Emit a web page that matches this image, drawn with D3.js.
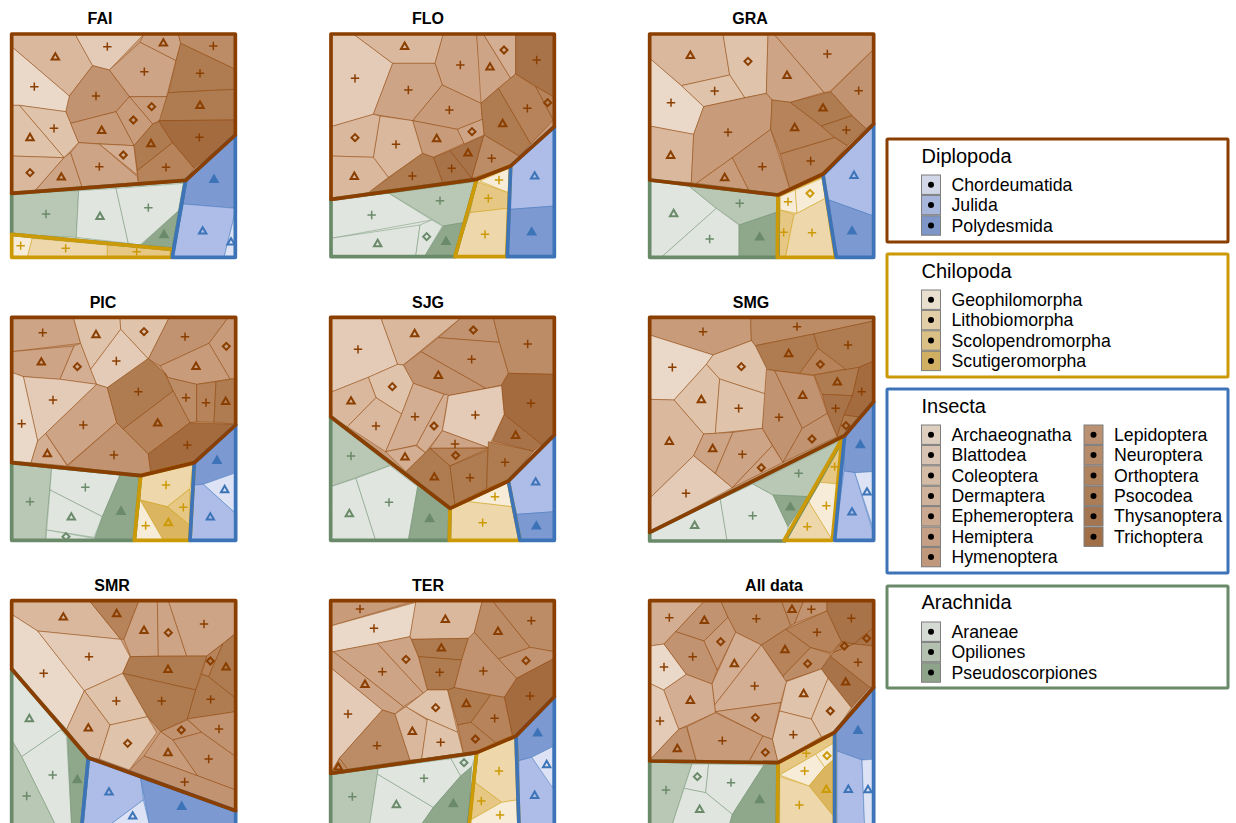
<!DOCTYPE html>
<html><head><meta charset="utf-8">
<script src="https://cdn.jsdelivr.net/npm/d3@7/dist/d3.min.js"></script>
<style>html,body{margin:0;padding:0;background:#fff}svg{display:block}text{font-family:"Liberation Sans",Arial,sans-serif;fill:#000}</style>
</head><body><svg id="c" width="1236" height="823"></svg>
<script>
const orders_I=["Archaeognatha","Blattodea","Coleoptera","Dermaptera","Ephemeroptera","Hemiptera","Hymenoptera","Lepidoptera","Neuroptera","Orthoptera","Psocodea","Thysanoptera","Trichoptera"];
const orders_D=["Chordeumatida","Julida","Polydesmida"];
const orders_C=["Geophilomorpha","Lithobiomorpha","Scolopendromorpha","Scutigeromorpha"];
const orders_A=["Araneae","Opiliones","Pseudoscorpiones"];
const colors_I=["#ead8c8","#e4cbb7","#dfc3aa","#dab89e","#d4ae92","#cea486","#c89c7b","#c29371","#bc8c66","#b6835a","#af7c51","#a9734a","#a46b3f"];
const colors_D=["#dde3f5","#aebde8","#7d99d2"];
const colors_C=["#f6ecd8","#eed8ab","#e6c884","#dbb55f"];
const colors_A=["#e0e6df","#b9c7b5","#8fa78b"];
const edge={I:"#8a3f00",C:"#cc9a06",D:"#3d74b8",A:"#6a8a6a"};
const drawOrder=["A","C","D","I"];

// each cell: [group, order index, symbol, marker x, marker y, polygon x,y,...]  (units: 1/3 px inside a panel's crop)
const FAI=[
["I",3,"t",166,170,[35,102,225,102,278,197,208,288,35,140]],
["I",1,"p",322,140,[225,102,432,102,328,210,278,197]],
["I",5,"t",490,128,[432,102,535,102,542,130,528,182,420,127]],
["I",8,"p",640,138,[535,102,706,102,706,208,542,130]],
["I",5,"p",433,215,[420,127,528,182,500,290,388,290,328,210]],
["I",10,"p",600,220,[542,130,706,208,706,268,505,278,528,182]],
["I",10,"t",600,315,[505,278,706,268,706,360,476,362,500,290]],
["I",6,"d",455,320,[388,290,500,290,478,362,458,372]],
["I",6,"d",400,360,[388,290,458,372,402,437,348,335]],
["I",7,"p",288,288,[278,197,328,210,388,290,348,335,212,370,197,335,208,288]],
["I",0,"p",103,260,[35,140,208,288,197,335,58,316,35,316]],
["I",2,"p",162,385,[58,316,197,335,212,370,236,428,192,473]],
["I",2,"t",90,412,[35,316,58,316,192,473,35,468]],
["I",3,"d",90,518,[35,468,192,473,100,578,35,580]],
["I",5,"t",184,530,[192,473,212,458,246,560,100,578]],
["I",6,"t",305,390,[212,370,348,335,402,437,236,428]],
["I",5,"p",298,500,[236,428,298,432,412,530,415,548,246,560,212,458]],
["I",4,"d",370,465,[298,432,402,437,412,525]],
["I",10,"t",453,430,[458,372,476,365,518,428,412,512,402,437]],
["I",9,"p",498,502,[518,428,583,505,557,541,415,548,412,512]],
["I",12,"p",598,412,[476,362,706,360,706,405,583,505,518,428]],
["A",1,"p",138,642,[35,580,236,572,229,712,35,703]],
["A",0,"t",300,648,[236,572,348,565,385,730,229,712]],
["A",0,"p",445,623,[348,565,550,550,535,633,420,735,385,730]],
["A",2,"t",492,703,[535,633,520,748,420,738]],
["C",0,"p",62,737,[35,703,97,715,82,772,35,772]],
["C",1,"p",197,745,[97,715,322,735,322,772,82,772]],
["C",2,"p",410,755,[322,735,515,748,515,772,322,772]],
["D",2,"t",642,537,[557,541,706,405,706,625,550,612]],
["D",1,"t",608,692,[550,612,706,625,700,660,672,772,517,772]],
["D",0,"t",693,725,[700,660,706,660,706,772,672,772]]];
const FAI_out={I:[35,102,706,102,706,405,557,541,35,580],A:[35,580,557,541,520,748,35,703],C:[35,703,515,748,515,772,35,772],D:[557,541,706,405,706,772,517,772]};

const FLO=[
["I",1,"p",105,235,[33,102,100,102,218,190,160,343,33,380]],
["I",3,"t",254,138,[100,102,370,102,345,190,218,190]],
["I",5,"p",421,195,[370,102,470,102,487,300,483,310,367,255,345,190]],
["I",5,"t",510,200,[470,102,490,102,572,235,535,265,483,310]],
["I",4,"d",552,150,[490,102,587,102,587,222,572,235]],
["I",11,"p",650,180,[587,102,703,102,703,292,587,222]],
["I",5,"p",265,270,[218,190,345,190,367,255,278,362,160,343]],
["I",6,"p",388,330,[367,255,483,310,487,358,412,388,278,362]],
["I",9,"p",622,325,[535,265,587,222,647,260,700,360,632,432]],
["I",9,"d",683,308,[647,260,703,292,703,380,700,360]],
["I",10,"t",548,370,[483,310,535,265,632,432,597,468,492,405,487,358]],
["I",8,"p",515,475,[492,405,597,468,572,498,455,535]],
["I",5,"d",456,395,[412,388,487,358,492,405,432,432]],
["I",6,"t",350,415,[278,362,412,388,432,430,340,472,307,460]],
["I",11,"t",444,458,[390,452,490,408,455,535]],
["I",11,"p",395,505,[340,472,390,452,455,535,368,548]],
["I",10,"p",277,528,[307,460,340,472,368,548,145,578]],
["I",3,"p",228,433,[180,348,278,362,307,460,205,532,160,472]],
["I",3,"d",105,413,[33,380,160,343,180,348,160,472,33,468]],
["I",3,"t",103,528,[33,468,160,472,205,532,145,578,33,598]],
["A",0,"p",155,645,[33,598,207,580,335,660,33,715]],
["A",1,"p",360,602,[207,580,465,545,447,665,370,678]],
["A",0,"t",173,730,[33,715,300,675,287,770,33,770]],
["A",0,"d",320,710,[300,675,335,660,367,678,313,770,287,770]],
["A",2,"t",378,723,[370,678,447,665,405,770,313,770]],
["C",0,"p",537,540,[480,543,568,505,565,578]],
["C",2,"p",505,595,[470,545,565,578,562,625,450,638]],
["C",1,"p",495,703,[450,638,562,625,558,770,405,770]],
["D",1,"t",644,527,[572,498,703,380,703,618,572,628]],
["D",2,"t",635,695,[572,628,703,618,703,770,562,770]]];
const FLO_out={I:[33,102,703,102,703,380,572,498,470,538,33,598],A:[33,598,470,538,405,770,33,770],C:[470,538,572,498,560,770,405,770],D:[572,498,703,380,703,770,562,770]};

const GRA=[
["I",3,"t",157,165,[35,102,255,102,275,225,130,257,35,175]],
["I",2,"d",330,184,[255,102,390,102,385,280,320,293,275,225]],
["I",2,"p",230,273,[130,257,275,225,320,293,197,320]],
["I",0,"p",99,308,[35,175,130,257,197,320,167,403,35,378]],
["I",3,"t",98,465,[35,378,167,403,160,548,35,540]],
["I",5,"t",447,225,[390,102,408,102,558,277,457,307,402,300,385,280]],
["I",5,"p",568,162,[408,102,707,102,707,148,575,275,558,277]],
["I",7,"p",662,272,[707,148,707,372,683,385,640,345,578,275]],
["I",6,"p",270,397,[197,320,385,280,402,300,398,388,283,473,175,550,160,548,167,403]],
["I",6,"t",260,532,[283,473,332,570,175,550]],
["I",7,"p",373,500,[283,473,398,388,455,565,420,585,332,570]],
["I",9,"t",470,382,[402,300,457,307,550,378,590,413,427,462,398,388]],
["I",10,"t",555,323,[457,307,578,275,642,347,550,378]],
["I",10,"p",625,390,[550,378,642,347,683,385,628,437,590,413]],
["I",9,"p",518,483,[427,462,590,413,628,437,555,522,455,565]],
["A",0,"t",107,640,[35,540,155,560,235,625,72,770,35,770]],
["A",1,"p",305,610,[155,560,420,585,415,637,305,675,235,625]],
["A",0,"p",215,717,[235,625,303,675,303,770,72,770]],
["A",2,"t",365,710,[303,675,415,637,415,770,303,770]],
["C",0,"p",450,605,[427,590,472,570,477,640,427,630]],
["C",0,"d",516,580,[472,570,552,535,562,595,477,640]],
["C",2,"p",437,697,[427,630,468,643,443,770,420,770]],
["C",1,"p",522,698,[468,643,477,640,562,595,593,770,443,770]],
["D",1,"t",648,525,[555,525,707,372,707,648,573,600]],
["D",2,"t",642,692,[573,600,707,648,707,772,595,772]]];
const GRA_out={I:[35,102,707,102,707,372,555,522,420,585,35,540],A:[35,540,420,585,420,772,35,772],C:[420,585,555,525,593,772,418,772],D:[555,525,707,372,707,772,595,772]};

const PIC=[
["I",5,"p",128,143,[35,97,220,97,242,175,35,200]],
["I",5,"t",124,230,[35,200,222,183,180,283,70,275,35,262]],
["I",4,"d",232,245,[222,183,242,175,290,298,180,283]],
["I",2,"t",288,148,[220,97,360,97,362,133,272,253,242,175]],
["I",2,"d",432,140,[360,97,508,97,445,222,362,133]],
["I",1,"p",349,228,[362,133,445,222,322,308,290,298,272,253]],
["I",7,"p",555,155,[508,97,685,97,627,175,480,243,445,222]],
["I",6,"d",679,184,[685,97,707,97,707,282,690,282,627,175]],
["I",6,"t",588,243,[480,243,627,175,690,282,590,298,505,278]],
["I",1,"p",159,345,[70,275,180,283,290,298,137,445,113,468]],
["I",0,"p",65,416,[35,262,70,275,113,468,93,533,35,528]],
["I",4,"t",142,505,[137,445,202,543,93,533,113,468]],
["I",5,"p",250,420,[290,298,322,308,350,413,202,540,137,445]],
["I",7,"p",342,510,[350,413,370,432,445,507,452,560,422,572,202,543]],
["I",10,"p",415,320,[322,308,445,220,495,265,520,318,370,432,350,413]],
["I",9,"t",473,413,[370,432,520,318,570,413,445,507]],
["I",8,"p",558,338,[495,265,505,278,590,298,590,410,570,413,520,318]],
["I",9,"p",618,353,[590,298,648,290,642,412,590,410]],
["I",10,"t",677,348,[648,290,707,280,707,418,642,412]],
["I",12,"p",562,480,[445,507,570,413,707,418,583,533,452,560]],
["A",1,"p",90,650,[35,535,155,550,138,735,138,766,35,766]],
["A",0,"p",256,607,[155,550,360,570,307,695,150,615]],
["A",0,"t",214,695,[150,615,307,695,282,757,140,735]],
["A",0,"d",198,755,[140,735,282,760,282,766,138,766]],
["A",2,"t",363,678,[360,570,418,575,403,766,282,766,307,695]],
["C",1,"p",498,600,[422,575,578,540,570,610,502,665,420,645]],
["C",2,"p",550,667,[570,612,568,720,502,665]],
["C",3,"t",505,712,[420,645,502,665,568,720,568,766,490,766]],
["C",0,"p",437,722,[420,645,490,766,403,766]],
["D",2,"t",651,525,[583,533,707,425,707,565,610,598,583,600]],
["D",0,"t",674,613,[610,598,703,565,703,682]],
["D",1,"t",631,695,[583,600,610,598,703,682,707,766,570,766]]];
const PIC_out={I:[35,97,707,97,707,420,583,533,422,572,35,533],A:[35,533,422,572,403,766,35,766],C:[422,572,583,533,570,766,403,766],D:[583,533,707,420,707,766,570,766]};

const SJG=[
["I",1,"p",114,193,[32,97,182,97,233,238,145,277,32,322]],
["I",3,"t",284,145,[182,97,425,97,250,240,233,238]],
["I",7,"d",460,135,[425,97,520,97,538,172,355,158]],
["I",8,"p",623,177,[520,97,703,97,703,268,565,265,538,172]],
["I",7,"p",455,223,[355,158,538,172,565,265,545,300,497,310,303,200]],
["I",7,"t",355,270,[303,200,497,310,385,332,280,295,250,240]],
["I",2,"d",217,305,[145,277,233,238,250,240,280,295,245,387,168,338]],
["I",3,"t",93,347,[32,322,145,277,168,338,82,425,32,395]],
["I",3,"p",168,423,[168,338,245,387,197,500,82,425]],
["I",4,"p",285,395,[280,295,372,328,290,480,197,500,245,387]],
["I",4,"d",342,423,[372,328,385,330,367,437,316,503,290,480]],
["I",1,"p",466,390,[385,332,545,302,553,388,505,488,367,437,375,395]],
["I",4,"t",255,515,[197,500,287,482,316,503,258,560]],
["I",5,"p",405,477,[367,437,505,488,330,490]],
["I",9,"d",407,511,[330,490,505,490,390,543]],
["I",10,"t",343,575,[316,503,330,490,390,543,405,658,390,670,258,560]],
["I",10,"p",450,578,[390,543,503,495,500,610,405,658]],
["I",10,"p",555,532,[505,470,640,498,565,588,500,610]],
["I",11,"t",587,450,[553,388,665,478,640,498,518,468]],
["I",12,"p",633,355,[565,265,703,268,703,450,665,478,553,388,545,300]],
["A",1,"p",93,513,[32,395,210,542,32,605]],
["A",0,"t",88,685,[32,605,108,580,167,766,32,766]],
["A",0,"p",207,652,[108,580,210,542,293,605,265,766,167,766]],
["A",2,"t",329,700,[293,605,390,670,388,766,265,766]],
["C",0,"p",525,635,[445,650,565,590,575,665]],
["C",1,"p",488,713,[392,670,445,650,575,665,597,766,388,766]],
["D",1,"t",647,590,[565,590,703,450,703,680,590,688]],
["D",2,"t",649,722,[590,688,703,680,703,766,600,766]]];
const SJG_out={I:[32,97,703,97,703,450,565,588,390,670,32,395],A:[32,395,390,670,388,766,32,766],C:[390,670,565,588,600,766,388,766],D:[565,588,703,450,703,766,600,766]};

const SMG=[
["I",6,"p",195,140,[35,97,338,97,340,167,225,210,35,150]],
["I",8,"p",477,125,[338,97,707,97,707,108,527,147,352,182,340,167]],
["I",10,"p",630,180,[527,147,707,108,707,228,663,247,622,255,540,190]],
["I",10,"t",452,205,[352,182,527,147,540,190,485,265,410,257,385,253]],
["I",9,"d",547,238,[540,190,622,252,528,270,485,265]],
["I",10,"t",598,290,[528,270,663,247,643,332,552,328]],
["I",12,"p",671,320,[663,247,707,228,707,350,675,398,618,390,643,332]],
["I",11,"p",593,370,[552,328,643,332,618,390,597,455,568,385]],
["I",10,"d",624,422,[618,390,672,398,620,452,597,455]],
["I",0,"p",103,247,[35,150,225,210,205,238,108,345,35,343]],
["I",2,"d",310,245,[225,210,340,167,352,182,387,253,383,327,245,282,205,238]],
["I",2,"t",190,343,[108,345,205,238,245,282,232,445,197,447]],
["I",2,"p",302,370,[245,282,383,327,373,430,232,445]],
["I",3,"t",94,468,[35,343,108,345,197,447,167,512,35,640]],
["I",1,"p",144,625,[35,640,167,512,283,608,35,742]],
["I",5,"t",224,490,[197,447,285,442,232,565,167,512]],
["I",5,"p",313,508,[285,442,373,430,403,482,283,608,232,565]],
["I",5,"d",370,548,[403,482,435,532,283,608]],
["I",7,"p",423,397,[385,253,410,257,493,430,435,532,373,430]],
["I",7,"t",494,330,[410,257,528,272,568,385,493,430]],
["I",7,"d",522,462,[493,430,568,385,597,455,435,532]],
["A",0,"t",170,720,[35,742,247,643,267,766,35,766]],
["A",0,"p",344,692,[247,643,345,597,405,630,450,725,445,766,267,766]],
["A",1,"p",482,565,[345,597,610,465,512,635,405,630]],
["A",2,"t",457,665,[405,630,512,635,450,725]],
["C",2,"p",590,545,[612,462,600,597,547,592]],
["C",0,"p",565,662,[547,592,600,597,583,766,512,650]],
["C",1,"p",508,725,[512,650,583,766,438,766]],
["D",2,"t",667,478,[620,452,707,355,707,562,650,563,618,558]],
["D",0,"t",687,620,[650,563,703,560,703,722]],
["D",1,"t",642,680,[618,558,650,563,703,735,703,766,590,766]]];
const SMG_out={I:[35,97,707,97,707,350,620,452,35,742],A:[35,742,620,452,440,768,35,768],C:[612,462,583,766,438,766],D:[620,452,707,350,707,766,590,766]};

const SMR=[
["I",3,"t",190,140,[35,92,268,92,362,208,113,183,35,133]],
["I",9,"t",350,130,[268,92,417,92,372,208,362,208]],
["I",5,"t",432,180,[417,92,472,92,475,258,392,260,372,208]],
["I",5,"d",505,188,[472,92,505,92,560,258,475,258]],
["I",5,"p",612,162,[505,92,707,92,707,190,620,258,560,258]],
["I",10,"t",678,290,[668,222,707,190,707,385,625,320]],
["I",9,"d",631,273,[620,258,668,222,625,320,605,312]],
["I",0,"p",131,310,[35,133,113,183,253,362,200,478,35,297]],
["I",1,"p",267,260,[113,183,362,208,390,260,368,310,253,362]],
["I",10,"t",504,297,[390,260,620,258,587,360,368,310]],
["I",10,"p",485,393,[368,310,587,360,562,447,482,485,442,440]],
["I",10,"p",632,388,[605,312,625,320,707,385,707,425,562,447,587,360]],
["I",2,"p",349,393,[253,362,368,310,442,440,330,465]],
["I",3,"t",265,473,[253,362,330,465,298,567,265,563,200,478]],
["I",2,"d",383,520,[330,465,442,440,470,488,388,600,298,567]],
["I",7,"p",657,477,[562,447,707,425,707,560,605,487]],
["I",7,"d",544,480,[482,485,562,450,605,487,518,510]],
["I",7,"p",626,567,[518,510,605,487,707,560,707,660,592,617]],
["I",6,"t",504,547,[482,485,518,510,592,617,432,558]],
["I",7,"p",554,636,[432,558,592,617,707,660,707,722,388,600]],
["A",0,"t",88,445,[35,297,200,478,182,480,65,560,35,510]],
["A",0,"p",158,615,[65,560,182,480,200,500,215,772,170,772]],
["A",1,"p",80,678,[35,510,65,560,170,772,35,772]],
["A",2,"t",232,628,[202,500,265,565,245,772,215,772]],
["D",1,"t",327,665,[265,563,422,625,430,690,320,772,245,772]],
["D",0,"t",398,737,[430,690,450,772,320,772]],
["D",2,"t",545,708,[422,625,707,722,707,772,450,772]]];
const SMR_out={I:[35,92,707,92,707,722,265,563,35,297],A:[35,297,265,563,245,772,35,772],D:[265,563,707,722,707,772,245,772]};

const TER=[
["I",6,"p",120,117,[32,92,288,92,32,168]],
["I",0,"p",162,175,[32,168,288,97,270,200,172,220,40,245,32,245]],
["I",3,"t",376,147,[288,92,487,92,463,187,445,205,275,208,270,200]],
["I",8,"t",534,183,[487,92,517,92,630,232,535,267,463,187]],
["I",8,"p",634,152,[517,92,703,92,703,245,630,232]],
["I",7,"d",618,272,[535,267,630,232,703,245,703,265,590,325]],
["I",10,"t",364,233,[275,208,445,205,425,270,295,260]],
["I",10,"p",359,307,[295,260,425,270,403,353,383,360,322,360]],
["I",5,"d",258,268,[172,220,270,200,295,260,322,360,310,370]],
["I",5,"p",187,305,[40,245,172,220,310,370,250,410]],
["I",5,"t",135,342,[32,245,40,245,250,410,225,432,187,420,32,293]],
["I",1,"p",84,432,[32,293,187,420,58,565,32,610]],
["I",8,"p",171,527,[187,420,225,432,270,570,83,598,58,565]],
["I",8,"t",55,590,[58,565,83,598,32,610]],
["I",3,"t",277,483,[225,432,258,410,322,450,305,567,270,570]],
["I",2,"d",347,413,[258,410,322,360,383,360,413,487,322,447]],
["I",2,"p",362,517,[322,447,413,487,430,550,305,567]],
["I",7,"p",490,303,[463,187,535,267,590,325,553,382,403,353,425,270,445,205]],
["I",12,"p",630,378,[590,325,703,265,703,380,588,498,577,497,553,382]],
["I",10,"t",439,400,[383,360,403,353,512,375,453,457,413,465]],
["I",9,"p",524,445,[512,375,553,382,577,497,525,517,453,457]],
["I",9,"d",466,507,[413,465,453,457,525,517,470,548,430,550]],
["A",1,"p",97,680,[32,610,175,595,148,772,32,772]],
["A",0,"t",229,703,[172,612,340,712,298,772,148,772]],
["A",0,"p",312,625,[175,595,393,566,422,618,340,712,172,612]],
["A",0,"d",432,578,[393,566,468,552,455,590,422,618]],
["A",2,"t",400,700,[422,618,455,590,445,772,298,772,340,712]],
["C",1,"p",537,603,[470,548,588,498,590,690,545,697,458,632]],
["C",2,"p",484,693,[458,632,545,697,452,750]],
["C",0,"p",540,735,[545,697,590,690,597,772,447,772,452,750]],
["D",2,"t",653,488,[588,498,703,380,703,530,635,562,597,572]],
["D",0,"t",680,583,[635,562,698,530,698,658]],
["D",1,"t",644,675,[597,572,635,562,703,660,703,772,597,772]]];
const TER_out={I:[32,92,703,92,703,380,588,498,470,548,32,610],A:[32,610,470,548,445,772,32,772],C:[470,548,588,498,597,772,447,772],D:[588,498,703,380,703,772,597,772]};

const ALL=[
["I",4,"p",94,143,[35,92,200,92,113,185,78,222,35,228]],
["I",7,"t",199,150,[200,92,248,92,270,142,198,213,113,185]],
["I",8,"p",355,146,[248,92,430,92,458,167,443,178,370,225,293,187,270,142]],
["I",8,"t",462,117,[430,92,497,92,470,160,458,167]],
["I",7,"p",520,118,[497,92,567,92,567,123,470,160]],
["I",11,"p",640,145,[567,92,707,92,707,173,648,222,610,215,567,123]],
["I",11,"d",686,205,[707,173,707,228,648,222,680,195]],
["I",9,"p",537,187,[443,178,567,123,610,215,580,248,518,233]],
["I",9,"t",441,238,[370,225,443,178,518,233,435,318]],
["I",8,"d",509,281,[518,233,580,252,550,297,438,335,435,318]],
["I",10,"d",619,228,[610,215,648,222,585,248]],
["I",9,"p",660,277,[585,248,648,222,707,228,707,352,695,352,578,260]],
["I",11,"t",623,335,[578,260,695,352,640,413,550,297]],
["I",2,"t",497,370,[445,335,550,297,570,325,520,447,425,423]],
["I",2,"d",577,423,[570,325,640,413,590,487,550,500,520,447]],
["I",2,"p",466,494,[425,423,520,447,550,500,420,578,403,508]],
["I",0,"p",78,291,[35,228,78,222,145,313,77,360,35,340]],
["I",7,"p",164,260,[78,222,113,185,198,213,238,300,222,342,145,313]],
["I",6,"d",248,215,[198,213,270,142,293,187,238,300]],
["I",4,"t",289,280,[293,187,370,225,230,405,222,342]],
["I",4,"p",350,348,[370,225,445,335,428,398,232,425,230,405]],
["I",5,"d",352,443,[232,425,428,398,403,508,375,498]],
["I",4,"t",157,390,[77,360,145,313,222,342,232,428,122,478]],
["I",1,"p",66,453,[35,340,77,360,122,478,35,570]],
["I",7,"t",118,535,[122,478,145,470,175,573,35,570]],
["I",6,"p",253,512,[147,470,232,428,375,498,333,575,175,573]],
["I",6,"d",382,547,[375,498,403,508,420,578,333,575]],
["A",1,"p",84,660,[35,575,162,582,100,772,35,772]],
["A",0,"d",178,620,[162,582,212,582,203,668,138,655]],
["A",0,"p",279,638,[212,582,378,585,283,733,203,668]],
["A",0,"t",185,717,[138,655,203,668,283,733,272,772,100,772]],
["A",2,"t",365,688,[378,585,418,582,415,772,272,772,283,733]],
["C",2,"p",505,550,[420,578,590,487,585,520,533,553,425,615]],
["C",0,"d",567,557,[533,553,585,520,585,570,560,592]],
["C",0,"p",500,603,[425,615,533,553,560,592,513,648]],
["C",3,"t",565,657,[513,648,560,592,585,570,585,737]],
["C",1,"p",484,705,[425,620,513,648,585,737,585,772,425,772]],
["D",2,"t",660,480,[590,487,707,352,703,568,672,570,597,543]],
["D",1,"t",631,657,[597,543,672,570,680,772,597,772]],
["D",0,"t",690,658,[672,570,703,568,703,772,680,772]]];
const ALL_out={I:[35,92,707,92,707,352,590,487,420,578,35,573],A:[35,573,420,578,418,772,35,772],C:[420,578,590,487,590,772,418,772],D:[590,487,707,352,707,772,590,772]};

const panels=[
["FAI",FAI,FAI_out,0,0,100,24],["FLO",FLO,FLO_out,320,0,428,24],["GRA",GRA,GRA_out,638,0,750,24],
["PIC",PIC,PIC_out,0,285,103,308],["SJG",SJG,SJG_out,320,285,428,308],["SMG",SMG,SMG_out,638,285,751,308],
["SMR",SMR,SMR_out,0,570,112,591],["TER",TER,TER_out,320,570,428,591],["All data",ALL,ALL_out,638,570,774,591]];

const legendGroups=[
["Diplopoda","I",orders_D,colors_D,139,242,162.5,175,7],
["Chilopoda","C",orders_C,colors_C,254,377,277.5,290,7],
["Insecta","D",orders_I,colors_I,389,573,412.5,425,7],
["Arachnida","A",orders_A,colors_A,586,688,608.5,622,7]];

const palette={I:colors_I,D:colors_D,C:colors_C,A:colors_A};
const underlay={I:colors_I[6],D:colors_D[1],C:colors_C[1],A:colors_A[0]};
const svg=d3.select("#c");
const x=d3.scaleLinear().domain([0,750]).range([0,250]);
const y=d3.scaleLinear().domain([0,810]).range([0,270]);
const line=d3.line().x(d=>x(d[0])).y(d=>y(d[1])).curve(d3.curveLinearClosed);
const pairs=f=>d3.range(0,f.length,2).map(i=>[f[i],f[i+1]]);
function sym(k){const p=d3.path();
 if(k==="p"){p.moveTo(-4.2,0);p.lineTo(4.2,0);p.moveTo(0,-4.2);p.lineTo(0,4.2);}
 else if(k==="t"){p.moveTo(0,-3.5);p.lineTo(3.7,2.9);p.lineTo(-3.7,2.9);p.closePath();}
 else {p.moveTo(0,-3.5);p.lineTo(3.5,0);p.lineTo(0,3.5);p.lineTo(-3.5,0);p.closePath();}
 return p.toString();}

panels.forEach(([name,cells,outs,ox,oy,tx,ty])=>{
 const g=svg.append("g").attr("transform",`translate(${ox},${oy})`);
 drawOrder.forEach(k=>{ if(!outs[k])return;
  g.append("path").attr("d",line(pairs(outs[k]))).attr("fill",underlay[k]);});
 g.selectAll("path.cell").data(cells).join("path").attr("class","cell")
  .attr("d",c=>line(pairs(c[5]))).attr("fill",c=>palette[c[0]][c[1]])
  .attr("stroke",c=>edge[c[0]]).attr("stroke-width",0.45).attr("stroke-linejoin","round");
 drawOrder.forEach(k=>{ if(!outs[k])return;
  g.append("path").attr("d",line(pairs(outs[k]))).attr("fill","none").attr("stroke",edge[k])
   .attr("stroke-width",3.7).attr("stroke-linejoin","round");});
 g.selectAll("path.mark").data(cells).join("path").attr("class","mark")
  .attr("transform",c=>`translate(${x(c[3])},${y(c[4])})`).attr("d",c=>sym(c[2]))
  .attr("fill",c=>c[2]==="p"?"none":((c[0]==="A"||c[0]==="D")&&c[1]===2?edge[c[0]]:palette[c[0]][c[1]]))
  .attr("stroke",c=>edge[c[0]]).attr("stroke-width",c=>c[2]==="p"?1.5:2);
 svg.append("text").attr("x",tx).attr("y",ty).attr("text-anchor","middle")
  .attr("font-size",16).attr("font-weight","bold").text(name);
});

const col=d3.scaleOrdinal().domain([0,1]).range([921.5,1084]);
const row=d3.scalePoint().domain(d3.range(7)).range([0,122.4]);
legendGroups.forEach(([name,k,ords,cols,top,bot,tb,sy,perCol])=>{
 svg.append("rect").attr("x",887).attr("y",top).attr("width",341).attr("height",bot-top)
  .attr("fill","#fff").attr("stroke",edge[k]).attr("stroke-width",3).attr("rx",1);
 svg.append("text").attr("x",921.5).attr("y",tb).attr("font-size",20).text(name);
 const items=ords.map((o,i)=>({o,c:cols[i],cx:col(Math.floor(i/perCol)),ry:sy+row(i%perCol)}));
 const it=svg.selectAll(null).data(items).join("g").attr("transform",d=>`translate(${d.cx},${d.ry})`);
 it.append("rect").attr("width",19).attr("height",19.4).attr("fill","#808080");
 it.append("rect").attr("width",19).attr("height",19.4).attr("fill",d=>d.c).attr("fill-opacity",0.88).attr("stroke","#7f7f7f").attr("stroke-width",1);
 it.append("circle").attr("cx",9.5).attr("cy",9.7).attr("r",3).attr("fill","#000");
 it.append("text").attr("x",30).attr("y",15.7).attr("font-size",17.7).text(d=>d.o);
});
</script></body></html>
